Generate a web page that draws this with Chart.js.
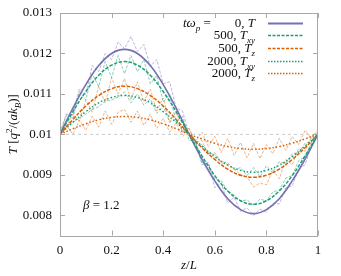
<!DOCTYPE html>
<html><head><meta charset="utf-8">
<script src="https://cdn.jsdelivr.net/npm/chart.js@4"></script>
<style>html,body{margin:0;padding:0;background:#fff}#c{display:block}</style>
</head><body><canvas id="c" width="341" height="276"></canvas>
<script>
// ---- data ----
const xSmooth = [0,0.05,0.1,0.15,0.2,0.25,0.3,0.35,0.4,0.45,0.5,0.55,0.6,0.65,0.7,0.75,0.8,0.85,0.9,0.95,1];
const theoryT0 = [0.01,0.01065,0.01123,0.0117,0.012,0.0121,0.012,0.0117,0.01123,0.01065,0.01,0.00939,0.00885,0.00841,0.00814,0.00804,0.00814,0.00841,0.00885,0.00939,0.01];
const theory500xy = [0.01,0.01056,0.01106,0.01146,0.01171,0.0118,0.01171,0.01146,0.01106,0.01056,0.01,0.00947,0.00898,0.0086,0.00836,0.00827,0.00836,0.0086,0.00898,0.00947,0.01];
const theory500z = [0.01,0.01037,0.0107,0.01096,0.01113,0.01119,0.01113,0.01096,0.0107,0.01037,0.01,0.00967,0.00938,0.00914,0.00899,0.00894,0.00899,0.00914,0.00938,0.00967,0.01];
const theory2000xy = [0.01,0.0103,0.01056,0.01078,0.01091,0.01096,0.01091,0.01078,0.01056,0.0103,0.01,0.00971,0.00945,0.00924,0.00911,0.00906,0.00911,0.00924,0.00945,0.00971,0.01];
const theory2000z = [0.01,0.01014,0.01026,0.01036,0.01042,0.01044,0.01042,0.01036,0.01026,0.01014,0.01,0.00989,0.00978,0.0097,0.00965,0.00963,0.00965,0.0097,0.00978,0.00989,0.01];

const xSim = [0,0.025,0.05,0.075,0.1,0.125,0.15,0.175,0.2,0.225,0.25,0.275,0.3,0.325,0.35,0.375,0.4,0.425,0.45,0.475,0.5,0.525,0.55,0.575,0.6,0.625,0.65,0.675,0.7,0.725,0.75,0.775,0.8,0.825,0.85,0.875,0.9,0.925,0.95,0.975,1];
const simT0 = [0.01005,0.0105,0.01048,0.01112,0.01098,0.0117,0.01155,0.012,0.01185,0.01228,0.01212,0.01242,0.01205,0.01222,0.01168,0.01185,0.01125,0.0113,0.01065,0.01058,0.01,0.00985,0.00925,0.0093,0.00868,0.0088,0.0083,0.00845,0.0081,0.00818,0.008,0.00815,0.00808,0.0083,0.00828,0.00868,0.00872,0.00915,0.00925,0.00975,0.01002];
const sim500xy = [0.01,0.01048,0.0104,0.01105,0.01085,0.0115,0.01118,0.0118,0.0114,0.01195,0.0115,0.01195,0.01155,0.01185,0.01125,0.01145,0.0108,0.01098,0.0103,0.01045,0.00985,0.00985,0.0093,0.00928,0.0089,0.00885,0.0086,0.0085,0.00835,0.00838,0.00825,0.0084,0.00835,0.00858,0.00862,0.00892,0.00898,0.00935,0.00945,0.0098,0.01005];
const sim500z = [0.01,0.01018,0.0105,0.01032,0.01085,0.01055,0.0112,0.01078,0.0114,0.011,0.01138,0.01085,0.0113,0.0108,0.01112,0.01058,0.0109,0.0103,0.01055,0.01005,0.01015,0.00978,0.00985,0.0095,0.00955,0.0093,0.00925,0.00915,0.009,0.00895,0.0087,0.0088,0.00875,0.00912,0.0089,0.00938,0.00925,0.00965,0.00958,0.00995,0.01005];
const sim2000xy = [0.01,0.01018,0.0103,0.0104,0.0105,0.01062,0.01068,0.01082,0.01085,0.01092,0.01105,0.01078,0.011,0.01072,0.01088,0.01052,0.0107,0.0103,0.01038,0.01008,0.01005,0.00978,0.00975,0.00955,0.0095,0.00932,0.0093,0.00912,0.00918,0.00898,0.00918,0.00895,0.00922,0.00905,0.00932,0.00928,0.00952,0.00955,0.00978,0.00982,0.01003];
const sim2000z = [0.01,0.01022,0.01,0.01035,0.0101,0.01045,0.01018,0.01058,0.01025,0.01055,0.01062,0.0103,0.01058,0.01022,0.0105,0.01015,0.0104,0.01005,0.01028,0.00995,0.01015,0.00982,0.01005,0.0097,0.00995,0.00955,0.0099,0.00948,0.0098,0.00942,0.00978,0.0094,0.00975,0.00952,0.0099,0.0096,0.00995,0.00975,0.0101,0.0099,0.01012];

const refLineX = [0, 1];
const refLineY = [0.01, 0.01];

const xTickValues = [0,0.2,0.4,0.6,0.8,1];
const xTickLabels = ['0','0.2','0.4','0.6','0.8','1'];
const yTickValues = [0.008,0.009,0.01,0.011,0.012,0.013];
const yTickLabels = ['0.008','0.009','0.01','0.011','0.012','0.013'];

// ---- styling ----
const PURPLE = '#7570b3', GREEN = '#1b9e77', ORANGE = '#d95f02';
const FONT = "'Liberation Serif', serif";
const pts = (xs, ys) => xs.map((x, i) => ({x, y: ys[i]}));

const simStyle = (c) => ({borderColor: c, borderWidth: 1, borderDash: [3, 1.5], pointRadius: 0, tension: 0, fill: false});
const datasets = [
  Object.assign({data: pts(refLineX, refLineY)}, {borderColor: '#c8c8c8', borderWidth: 1, borderDash: [3, 3], pointRadius: 0}),
  Object.assign({data: pts(xSim, simT0)}, simStyle('rgba(117,112,179,0.5)')),
  Object.assign({data: pts(xSim, sim500xy)}, simStyle('rgba(27,158,119,0.5)')),
  Object.assign({data: pts(xSim, sim500z)}, simStyle('rgba(217,95,2,0.45)')),
  Object.assign({data: pts(xSim, sim2000xy)}, simStyle('rgba(27,158,119,0.5)')),
  Object.assign({data: pts(xSim, sim2000z)}, simStyle('rgba(217,95,2,0.45)')),
  {data: pts(xSmooth, theory2000z), borderColor: ORANGE, borderWidth: 1.5, borderDash: [1.5, 2], pointRadius: 0, tension: 0.4},
  {data: pts(xSmooth, theory2000xy), borderColor: GREEN, borderWidth: 1.5, borderDash: [1.5, 2], pointRadius: 0, tension: 0.4},
  {data: pts(xSmooth, theory500z), borderColor: ORANGE, borderWidth: 1.5, borderDash: [3.5, 1.5], pointRadius: 0, tension: 0.4},
  {data: pts(xSmooth, theory500xy), borderColor: GREEN, borderWidth: 1.5, borderDash: [3.5, 1.5], pointRadius: 0, tension: 0.4},
  {data: pts(xSmooth, theoryT0), borderColor: PURPLE, borderWidth: 1.6, pointRadius: 0, tension: 0.4},
];

// legend entries
const legendRows = [
  {right: [{t:'0, '},{t:'T',i:1}], color: PURPLE, dash: [], w: 2},
  {right: [{t:'500, '},{t:'T',i:1},{t:'xy',i:1,sub:1}], color: GREEN, dash: [3, 1.5], w: 1.5},
  {right: [{t:'500, '},{t:'T',i:1},{t:'z',i:1,sub:1}], color: ORANGE, dash: [3, 1.5], w: 1.5},
  {right: [{t:'2000, '},{t:'T',i:1},{t:'xy',i:1,sub:1}], color: GREEN, dash: [1.5, 1.5], w: 1.5},
  {right: [{t:'2000, '},{t:'T',i:1},{t:'z',i:1,sub:1}], color: ORANGE, dash: [1.5, 1.5], w: 1.5},
];
const legendLineY = [23, 35, 48, 61, 73];

function fontFor(p, size) {
  const s = (p.sub || p.sup) ? Math.round(size * 0.7) : size;
  return (p.i ? 'italic ' : '') + s + 'px ' + FONT;
}
function richWidth(ctx, parts, size) {
  let w = 0;
  for (const p of parts) { ctx.font = fontFor(p, size); w += ctx.measureText(p.t).width; }
  return w;
}
function drawRich(ctx, parts, x, y, size, align) {
  let w = richWidth(ctx, parts, size);
  let cx = align === 'right' ? x - w : align === 'center' ? x - w / 2 : x;
  ctx.textBaseline = 'alphabetic';
  ctx.textAlign = 'left';
  for (const p of parts) {
    ctx.font = fontFor(p, size);
    const dy = p.sub ? size * 0.3 : p.sup ? -size * 0.38 : 0;
    ctx.fillText(p.t, cx, y + dy);
    cx += ctx.measureText(p.t).width;
  }
}

const decor = {
  id: 'decor',
  afterDraw(chart) {
    const ctx = chart.ctx, a = chart.chartArea;
    const xs = chart.scales.x, ys = chart.scales.y;
    ctx.save();
    // border
    ctx.strokeStyle = '#a8a8a8';
    ctx.lineWidth = 1;
    ctx.setLineDash([]);
    ctx.strokeRect(Math.round(a.left) + 0.5, Math.round(a.top) + 0.5, Math.round(a.right - a.left) - 1, Math.round(a.bottom - a.top));
    // inward ticks
    ctx.beginPath();
    for (const v of xTickValues) {
      const px = Math.round(xs.getPixelForValue(v)) + 0.5;
      ctx.moveTo(px, a.bottom); ctx.lineTo(px, a.bottom - 5);
      ctx.moveTo(px, a.top); ctx.lineTo(px, a.top + 5);
    }
    for (const v of yTickValues) {
      const py = Math.round(ys.getPixelForValue(v)) + 0.5;
      ctx.moveTo(a.left, py); ctx.lineTo(a.left + 5, py);
      ctx.moveTo(a.right, py); ctx.lineTo(a.right - 5, py);
    }
    ctx.stroke();

    ctx.fillStyle = '#111';
    // legend
    drawRich(ctx, [{t:'t',i:1},{t:'ω',i:1},{t:'p',i:1,sub:1},{t:' ='}], 183, legendLineY[0] + 4, 13, 'left');
    legendRows.forEach((r, k) => {
      ctx.fillStyle = '#111';
      drawRich(ctx, r.right, 255, legendLineY[k] + 4, 13, 'right');
      ctx.beginPath();
      ctx.strokeStyle = r.color;
      ctx.lineWidth = r.w;
      ctx.setLineDash(r.dash);
      const ly = legendLineY[k] + 0.5;
      ctx.moveTo(268, ly); ctx.lineTo(303, ly);
      ctx.stroke();
    });
    ctx.setLineDash([]);
    ctx.fillStyle = '#111';
    // beta annotation
    drawRich(ctx, [{t:'β',i:1},{t:' = 1.2'}], 83, 209, 13, 'left');
    // x title
    drawRich(ctx, [{t:'z',i:1},{t:'/'},{t:'L',i:1}], (a.left + a.right) / 2, 269, 13, 'center');
    // y title
    ctx.translate(17, (a.top + a.bottom) / 2);
    ctx.rotate(-Math.PI / 2);
    drawRich(ctx, [{t:'T',i:1},{t:' ['},{t:'q',i:1},{t:'2',sup:1},{t:'/('},{t:'a',i:1},{t:'k',i:1},{t:'B',i:1,sub:1},{t:')]'}], 0, 0, 13, 'center');
    ctx.restore();
  }
};

new Chart(document.getElementById('c'), {
  type: 'line',
  data: {datasets},
  options: {
    responsive: false,
    animation: false,
    devicePixelRatio: 1,
    layout: {padding: {top: 13, right: 23, left: 0, bottom: 0}},
    plugins: {legend: {display: false}, tooltip: {enabled: false}},
    scales: {
      x: {
        type: 'linear', min: 0, max: 1,
        grid: {display: false, drawTicks: false},
        border: {display: false},
        afterBuildTicks: s => { s.ticks = xTickValues.map(v => ({value: v})); },
        ticks: {padding: 7, color: '#111', font: {family: FONT, size: 13}, maxRotation: 0, autoSkip: false,
          callback: (v, i) => xTickLabels[i]},
        afterFit: s => { s.height = 40.5; s.paddingLeft = 0; s.paddingRight = 0; s.paddingTop = 0; s.paddingBottom = 0; }
      },
      y: {
        type: 'linear', min: 0.0075, max: 0.013,
        grid: {display: false, drawTicks: false},
        border: {display: false},
        afterBuildTicks: s => { s.ticks = yTickValues.map(v => ({value: v})); },
        ticks: {padding: 8, color: '#111', font: {family: FONT, size: 13}, autoSkip: false,
          callback: (v, i) => yTickLabels[i]},
        afterFit: s => { s.width = 60; s.paddingLeft = 0; s.paddingRight = 0; s.paddingTop = 0; s.paddingBottom = 0; }
      }
    }
  },
  plugins: [decor]
});
</script></body></html>
